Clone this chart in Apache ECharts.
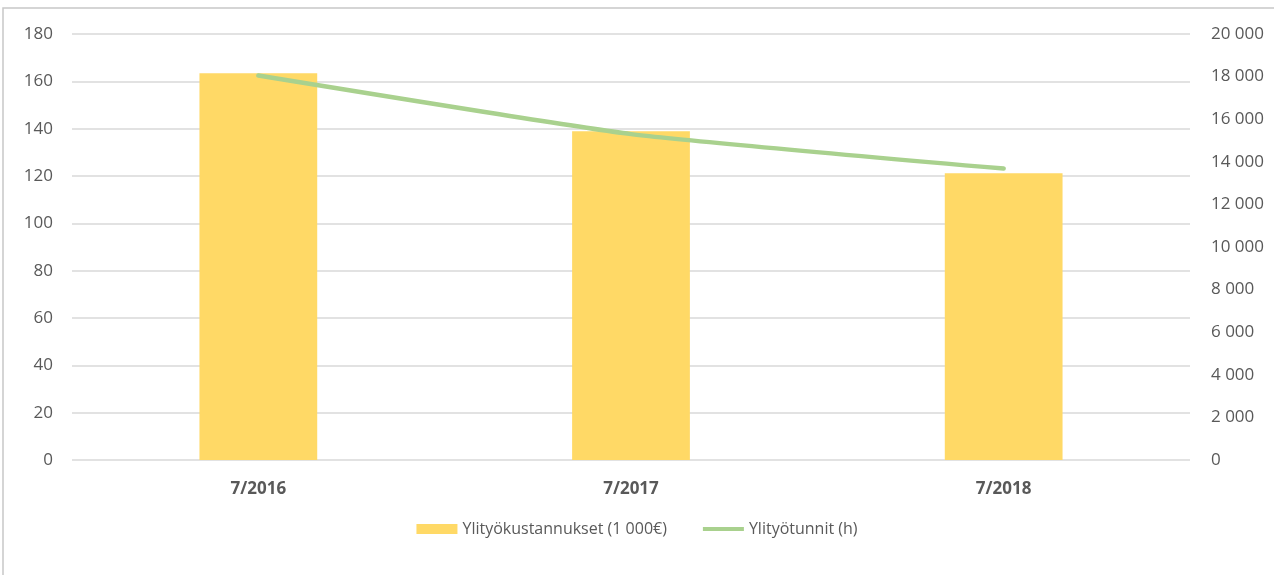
<!DOCTYPE html>
<html>
<head>
<meta charset="utf-8">
<script src="https://cdn.jsdelivr.net/npm/echarts@6/dist/echarts.min.js"></script>
<style>html,body{margin:0;padding:0;background:#fff}#c{width:1274px;height:575px}</style>
</head>
<body>
<div id="c"></div>
<script>
var categories = ['7/2016', '7/2017', '7/2018'];
var costs = [163.4, 138.9, 121.2];
var hours = [18050, 15300, 13680];
var seriesNames = ['Ylityökustannukset (1 000€)', 'Ylityötunnit (h)'];

var font = 'Open Sans';
var chart = echarts.init(document.getElementById('c'));
chart.setOption({
  animation: false,
  graphic: [{
    type: 'rect', silent: true,
    shape: {x: 3, y: 8, width: 1400, height: 700},
    style: {fill: 'none', stroke: '#c8c8c8', lineWidth: 1.5}
  }],
  grid: {left: 72, right: 84, top: 34, bottom: 115},
  legend: {
    bottom: 33, left: 'center',
    itemGap: 36, itemWidth: 41, itemHeight: 10,
    textStyle: {color: '#595959', fontSize: 16, fontFamily: font},
    data: [
      {name: seriesNames[0], icon: 'rect'},
      {name: seriesNames[1], icon: 'path://M0,0 M41,10 M0,3 L41,3 L41,7 L0,7 Z'}
    ]
  },
  xAxis: {
    type: 'category', data: categories,
    axisLine: {show: false}, axisTick: {show: false},
    axisLabel: {color: '#595959', fontSize: 17, fontWeight: 'bold', fontFamily: font, margin: 21}
  },
  yAxis: [{
    type: 'value', min: 0, max: 180, interval: 20,
    axisLabel: {color: '#595959', fontSize: 17, fontFamily: font, margin: 19},
    splitLine: {lineStyle: {color: '#d9d9d9', width: 1.5}}
  }, {
    type: 'value', min: 0, max: 20000, interval: 2000,
    axisLabel: {color: '#595959', fontSize: 17, fontFamily: font, margin: 21,
      formatter: function (v) { return String(v).replace(/\B(?=(\d{3})+(?!\d))/g, ' '); }},
    splitLine: {show: false}
  }],
  series: [{
    name: seriesNames[0], type: 'bar', data: costs, yAxisIndex: 0,
    barWidth: '31.6%', itemStyle: {color: '#ffd966'}
  }, {
    name: seriesNames[1], type: 'line', data: hours, yAxisIndex: 1,
    symbol: 'none', smooth: 0.15,
    lineStyle: {color: '#a9d18e', width: 4.5, cap: 'round'},
    itemStyle: {color: '#a9d18e'}
  }]
});
</script>
</body>
</html>
